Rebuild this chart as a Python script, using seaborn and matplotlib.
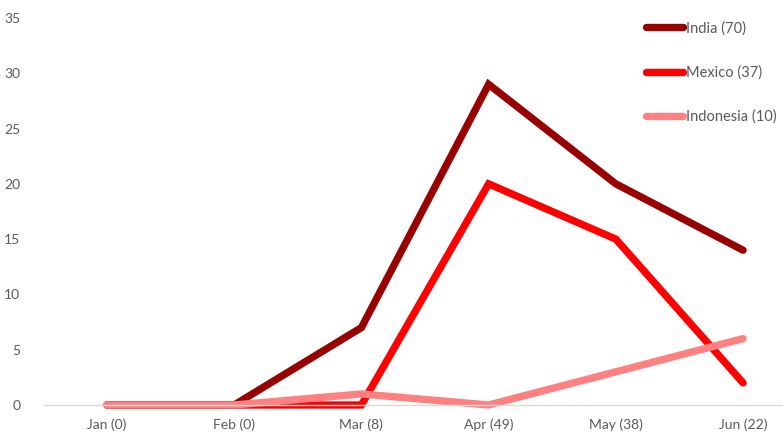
import matplotlib
matplotlib.use("Agg")
import matplotlib.pyplot as plt
import seaborn as sns
import pandas as pd
from matplotlib.lines import Line2D

months = ["Jan (0)", "Feb (0)", "Mar (8)", "Apr (49)", "May (38)", "Jun (22)"]
india = [0, 0, 7, 29, 20, 14]
mexico = [0, 0, 0, 20, 15, 2]
indonesia = [0, 0, 1, 0, 3, 6]
series_names = ["India (70)", "Mexico (37)", "Indonesia (10)"]
colors = ["#990000", "#FF0000", "#FF8080"]

sns.set_theme(style="white")
plt.rcParams['font.family'] = ['Lato', 'DejaVu Sans']

rows = []
for name, vals in zip(series_names, [india, mexico, indonesia]):
    for i, v in enumerate(vals):
        rows.append({"x": i, "month": months[i], "value": v, "series": name})
df = pd.DataFrame(rows)

fig = plt.figure(figsize=(7.83, 4.33), dpi=100)
ax = fig.add_axes([44/783, 1 - 405/433, 1 - 44/783, (405 - 18)/433])

sns.lineplot(data=df, x="x", y="value", hue="series", palette=colors,
             linewidth=5.3, ax=ax, legend=False, clip_on=False)
for ln in ax.get_lines():
    ln.set_solid_capstyle("round")
    ln.set_solid_joinstyle("miter")

ax.set_xlim(-0.495, 5.314)
ax.set_ylim(0, 35)
ax.set_yticks(range(0, 36, 5))
ax.set_xticks(range(6))
ax.set_xticklabels(months)
ax.set_xlabel("")
ax.set_ylabel("")
for s in ["top", "right", "left"]:
    ax.spines[s].set_visible(False)
ax.spines["bottom"].set_color("#D9D9D9")
ax.spines["bottom"].set_linewidth(1)
ax.tick_params(axis="both", length=0, labelsize=10, colors="#595959")
ax.tick_params(axis="x", pad=10)
ax.tick_params(axis="y", pad=17)
ax.grid(False)

handles = [Line2D([0], [0], color=c, linewidth=5.3, solid_capstyle="round") for c in colors]
leg = ax.legend(handles, series_names, loc="upper left", bbox_to_anchor=(633/783, 1 - 8/433),
                bbox_transform=fig.transFigure, frameon=False, fontsize=10.5,
                handlelength=2.5, handletextpad=0.2, labelspacing=2.05, labelcolor="#595959")

fig.savefig("out.png", dpi=100)
